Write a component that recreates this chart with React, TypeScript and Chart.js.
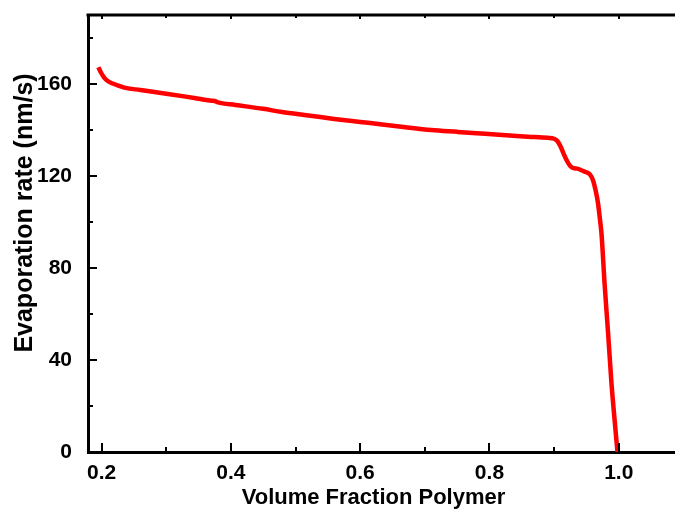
import React, { useEffect, useRef } from "react";
import { Chart, registerables } from "chart.js";

Chart.register(...registerables);

// Volume fraction polymer (x) and evaporation rate in nm/s (y)
const fractionPolymer = [
  0.195, 0.199, 0.204, 0.21, 0.217, 0.227, 0.237, 0.26, 0.3, 0.33, 0.35, 0.37,
  0.375, 0.38, 0.407, 0.45, 0.479, 0.52, 0.56, 0.6, 0.631, 0.67, 0.71, 0.75,
  0.78, 0.82, 0.86, 0.89, 0.9, 0.905, 0.91, 0.915, 0.92, 0.925, 0.93, 0.936,
  0.943, 0.95, 0.955, 0.96, 0.964, 0.968, 0.971, 0.9733, 0.978, 0.9835,
  0.9887, 0.994, 0.998,
];
const evaporationRate = [
  167.3, 165.0, 162.8, 161.2, 160.2, 159.2, 158.3, 157.4, 155.8, 154.5, 153.6,
  152.7, 152.6, 152.0, 150.9, 149.2, 147.8, 146.3, 144.8, 143.5, 142.5, 141.2,
  140.0, 139.2, 138.6, 137.8, 137.1, 136.6, 136.2, 135.2, 132.8, 129.5, 126.5,
  124.3, 123.4, 123.2, 122.4, 121.6, 120.8, 118.3, 114.0, 108.0, 101.0, 95.0,
  73.5, 51.7, 30.0, 12.6, 0.0,
];

const xMajorTicks = [0.2, 0.4, 0.6, 0.8, 1.0];
const xMinorTicks = [0.3, 0.5, 0.7, 0.9];
const yMajorTicks = [0, 40, 80, 120, 160];
const yMinorTicks = [20, 60, 100, 140, 180];
const xTitle = "Volume Fraction Polymer";
const yTitle = "Evaporation rate (nm/s)";

const FONT = '"Liberation Sans", Arial, Helvetica, sans-serif';

const framePlugin = {
  id: "frameAndTitles",
  afterDraw(chart: any) {
    const { ctx, chartArea: a, scales } = chart;
    const x = scales.x;
    const y = scales.y;
    ctx.save();
    ctx.strokeStyle = "#000";
    // top frame line
    ctx.lineWidth = 3;
    ctx.beginPath();
    ctx.moveTo(a.left - 1.5, a.top);
    ctx.lineTo(a.right, a.top);
    ctx.stroke();
    // inward ticks
    ctx.lineWidth = 2;
    ctx.beginPath();
    xMajorTicks.forEach((v) => {
      const px = Math.round(x.getPixelForValue(v));
      ctx.moveTo(px, a.bottom);
      ctx.lineTo(px, a.bottom - 9);
      ctx.moveTo(px, a.top);
      ctx.lineTo(px, a.top + 4);
    });
    xMinorTicks.forEach((v) => {
      const px = Math.round(x.getPixelForValue(v));
      ctx.moveTo(px, a.bottom);
      ctx.lineTo(px, a.bottom - 5);
      ctx.moveTo(px, a.top);
      ctx.lineTo(px, a.top + 3);
    });
    yMajorTicks.forEach((v) => {
      const py = Math.round(y.getPixelForValue(v));
      ctx.moveTo(a.left, py);
      ctx.lineTo(a.left + 9, py);
    });
    yMinorTicks.forEach((v) => {
      const py = Math.round(y.getPixelForValue(v));
      ctx.moveTo(a.left, py);
      ctx.lineTo(a.left + 5, py);
    });
    ctx.stroke();
    // axis titles
    ctx.fillStyle = "#000";
    ctx.textAlign = "center";
    ctx.textBaseline = "alphabetic";
    ctx.font = `bold 22px ${FONT}`;
    ctx.fillText(xTitle, (a.left + a.right) / 2 - 8, 504);
    ctx.translate(32, 213);
    ctx.rotate(-Math.PI / 2);
    ctx.font = `bold 25px ${FONT}`;
    ctx.fillText(yTitle, 0, 0);
    ctx.restore();
  },
};

export default function App() {
  const canvasRef = useRef<HTMLCanvasElement | null>(null);

  useEffect(() => {
    if (!canvasRef.current) return;
    const points = fractionPolymer.map((v, i) => ({ x: v, y: evaporationRate[i] }));
    const tickFont = { family: FONT, size: 21, weight: "bold" as const };
    const chart = new Chart(canvasRef.current, {
      type: "line",
      data: {
        datasets: [
          {
            data: points,
            borderColor: "rgb(255,0,0)",
            borderWidth: 4.5,
            pointRadius: 0,
            fill: false,
            cubicInterpolationMode: "monotone",
          },
        ],
      },
      options: {
        animation: false,
        responsive: false,
        layout: { padding: { top: 15, right: 0, left: 0, bottom: 0 } },
        plugins: { legend: { display: false }, tooltip: { enabled: false } },
        scales: {
          x: {
            type: "linear",
            min: 0.179,
            max: 1.087,
            afterFit: (s: any) => {
              s.height = 58;
              s.paddingLeft = 0;
              s.paddingRight = 0;
            },
            afterBuildTicks: (s: any) => {
              s.ticks = xMajorTicks.map((v) => ({ value: v }));
            },
            grid: { display: false, drawTicks: false },
            border: { display: true, color: "#000", width: 3 },
            ticks: {
              color: "#000",
              font: tickFont,
              padding: 9,
              maxRotation: 0,
              autoSkip: false,
              callback: (v: any) => Number(v).toFixed(1),
            },
          },
          y: {
            type: "linear",
            min: 0,
            max: 190,
            afterFit: (s: any) => {
              s.width = 88;
              s.paddingTop = 0;
              s.paddingBottom = 0;
            },
            afterBuildTicks: (s: any) => {
              s.ticks = yMajorTicks.map((v) => ({ value: v }));
            },
            grid: { display: false, drawTicks: false },
            border: { display: true, color: "#000", width: 3 },
            ticks: {
              color: "#000",
              font: tickFont,
              padding: 16,
              autoSkip: false,
              callback: (v: any) => String(v),
            },
          },
        },
      },
      plugins: [framePlugin],
    });
    return () => chart.destroy();
  }, []);

  return (
    <div style={{ position: "fixed", left: 0, top: 0, width: 675, height: 510, background: "#fff" }}>
      <canvas ref={canvasRef} width={675} height={510} style={{ display: "block" }} />
    </div>
  );
}
